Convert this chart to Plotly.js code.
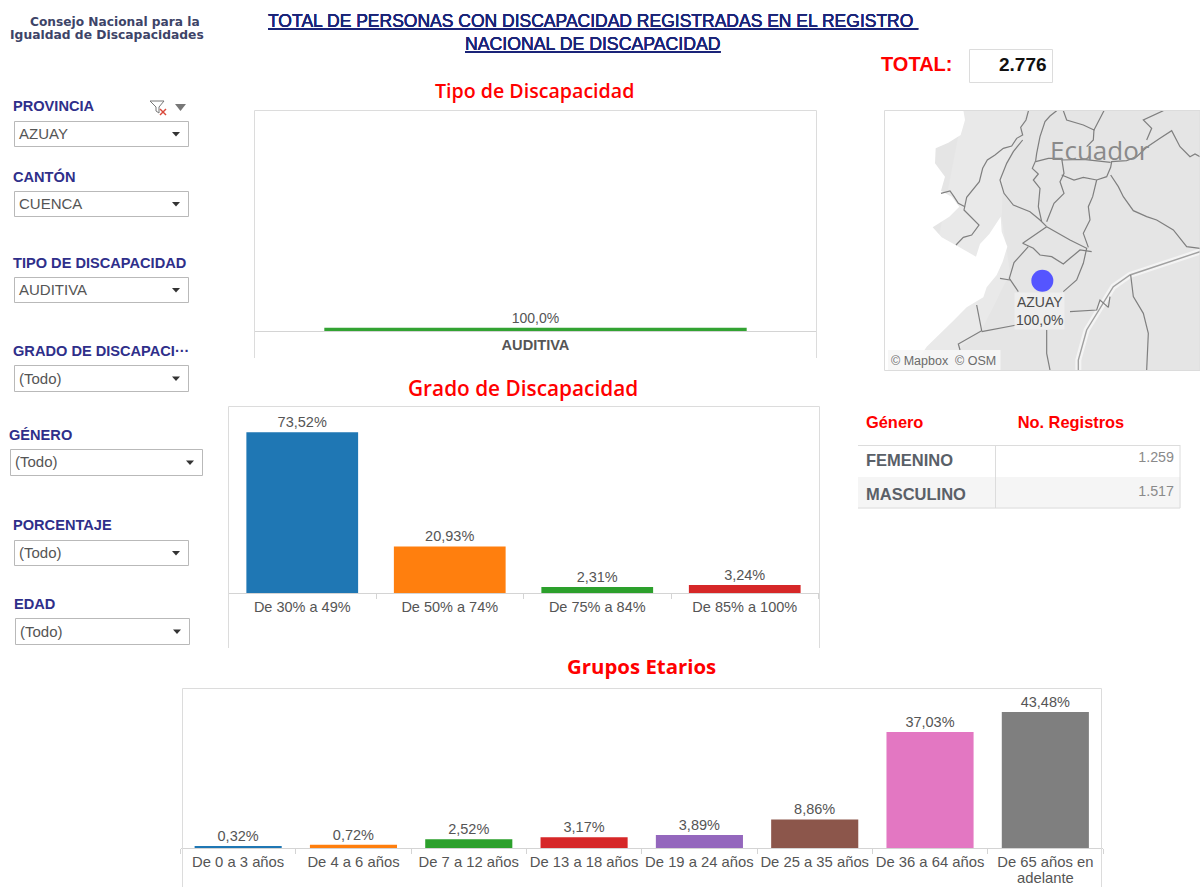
<!DOCTYPE html>
<html>
<head>
<meta charset="utf-8">
<script src="https://cdn.plot.ly/plotly-3.0.1.min.js"></script>
<style>html,body{margin:0;padding:0;background:#fff;overflow:hidden}#chart{width:1200px;height:887px}</style>
</head>
<body>
<div id="chart"></div>
<script>
// ---------- data ----------
const tipoCategorias = ["AUDITIVA"];
const tipoValores = [100.0];
const gradoCategorias = ["De 30% a 49%", "De 50% a 74%", "De 75% a 84%", "De 85% a 100%"];
const gradoValores = [73.52, 20.93, 2.31, 3.24];
const edadCategorias = ["De 0 a 3 años", "De 4 a 6 años", "De 7 a 12 años", "De 13 a 18 años", "De 19 a 24 años", "De 25 a 35 años", "De 36 a 64 años", "De 65 años en<br>adelante"];
const edadValores = [0.32, 0.72, 2.52, 3.17, 3.89, 8.86, 37.03, 43.48];
const generoEncabezados = ["Género", "No. Registros"];
const generoCategorias = ["FEMENINO", "MASCULINO"];
const generoRegistros = ["1.259", "1.517"];
const totalRegistros = "2.776";
const filtroNombres = ["PROVINCIA", "CANTÓN", "TIPO DE DISCAPACIDAD", "GRADO DE DISCAPACI···", "GÉNERO", "PORCENTAJE", "EDAD"];
const filtroValores = ["AZUAY", "CUENCA", "AUDITIVA", "(Todo)", "(Todo)", "(Todo)", "(Todo)"];
const mapaProvincia = ["AZUAY"];
const mapaPorcentaje = [100.0];

// map outlines in map units
const mapaCosta = [[280,210],[470,210],[440,300],[400,400],[395,530],[420,700],[340,860],[200,990],[130,990],[280,210]];
const mapaMar = [[42,210],[280,210],[285,240],[272,285],[235,308],[197,325],[195,370],[225,410],[213,452],[245,470],[268,500],[238,530],[188,562],[215,592],[262,618],[318,650],[330,612],[358,582],[392,530],[395,575],[412,620],[398,665],[380,705],[350,742],[340,772],[290,802],[250,842],[210,880],[170,920],[150,950],[130,990],[42,990],[42,210]];
const mapaFronteras = [
 [[476,210],[468,240],[452,262],[458,285],[440,295],[425,318],[400,325],[375,345],[352,360],[338,385],[328,425],[315,440],[290,472],[282,510],[300,528],[327,555],[305,585],[280,592],[258,615]],
 [[213,460],[240,453],[252,470],[265,490],[285,500]],
 [[560,212],[540,228],[525,245],[510,290],[500,340],[497,362],[487,385],[505,402],[490,420],[510,445],[505,500],[515,545]],
 [[458,300],[430,335],[410,370],[390,420],[402,460],[430,495],[480,515],[510,540],[530,560]],
 [[497,365],[535,355],[575,355],[582,400],[570,425],[582,460],[552,490],[530,545]],
 [[575,405],[612,420],[640,412],[680,420],[710,410],[722,382],[725,365],[770,362],[800,350],[830,322],[870,295],[905,272],[930,320],[960,350],[975,342],[990,350]],
 [[575,360],[640,358],[722,367]],
 [[680,420],[668,470],[655,500],[660,540],[640,580],[655,622]],
 [[722,405],[745,440],[760,470],[790,512],[830,530],[860,540],[910,570],[950,620],[990,625]],
 [[530,560],[492,585],[458,610],[490,625],[510,645],[545,650],[580,672],[600,655],[630,630],[665,635]],
 [[475,620],[432,668],[418,715],[445,755]],
 [[530,560],[600,600],[650,625],[640,670],[620,720],[580,755]],
 [[580,212],[590,240],[640,255],[672,270],[702,212]],
 [[672,268],[670,300],[650,320]],
 [[880,212],[820,240],[845,265],[830,300]],
 [[390,715],[420,720]],
 [[320,795],[335,872],[265,912],[270,930]],
 [[335,875],[440,855]],
 [[600,815],[680,810],[690,780],[715,802],[720,770]],
 [[782,705],[790,770],[820,820],[835,880],[830,990]],
 [[530,870],[530,940],[540,990]]
];
const mapaFronteraPeru = [[990,635],[780,705],[730,740],[700,790],[650,870],[625,960],[625,990]];

// ---------- page geometry (pixels) ----------
const W = 1200, H = 887;
const px = x => x / W, py = y => 1 - y / H;
const filtroGeo = [
 {lx:12, ly:106, x0:14, x1:189, y0:121, y1:147},
 {lx:12, ly:176, x0:14, x1:189, y0:191, y1:217},
 {lx:12, ly:263, x0:14, x1:189, y0:277, y1:303},
 {lx:12, ly:351, x0:14, x1:189, y0:365, y1:392},
 {lx:8,  ly:435, x0:10, x1:203, y0:449, y1:476},
 {lx:12, ly:525, x0:14, x1:189, y0:540, y1:566},
 {lx:13, ly:604, x0:15, x1:190, y0:618, y1:645}
];
const frameColor = "#dcdcdc", axisColor = "#d4d4d4";
const tab10 = ["#1f77b4", "#ff7f0e", "#2ca02c", "#d62728", "#9467bd", "#8c564b", "#e377c2", "#7f7f7f"];
const sans = "Liberation Sans, Arial, sans-serif";
const pct = (v, d) => v.toFixed(d).replace(".", ",") + "%";

const annotations = [], shapes = [];
function label(text, x, y, opts) {
  annotations.push(Object.assign({
    text, x: px(x), y: py(y), xref: "paper", yref: "paper", showarrow: false,
    xanchor: "left", yanchor: "middle", borderpad: 0,
    font: {family: sans, size: 14, color: "#555"}
  }, opts || {}));
}
function pathShape(points, fill) {
  const d = points.map((p, i) => (i ? "L" : "M") + px(p[0]) + "," + py(p[1])).join(" ") + " Z";
  shapes.push({type: "path", xref: "paper", yref: "paper", path: d, fillcolor: fill, line: {width: 0}, layer: "above"});
}
function rect(x0, y0, x1, y1, line, fill, layer) {
  shapes.push({type: "rect", xref: "paper", yref: "paper", x0: px(x0), x1: px(x1), y0: py(y0), y1: py(y1),
    line: {color: line, width: 1}, fillcolor: fill || "rgba(0,0,0,0)", layer: layer || "above"});
}
function seg(x0, y0, x1, y1, color, width) {
  shapes.push({type: "line", xref: "paper", yref: "paper", x0: px(x0), x1: px(x1), y0: py(y0), y1: py(y1),
    line: {color, width: width || 1}, layer: "above"});
}
function openFrame(x0, y0, x1, y1) {
  seg(x0, y0, x1, y0, frameColor); seg(x0, y0, x0, y1, frameColor); seg(x1, y0, x1, y1, frameColor);
}

// ---------- header ----------
label("Consejo Nacional para la", 114.5, 22, {xanchor: "center", font: {family: "DejaVu Sans", size: 12.2, color: "#3d4468", weight: 700}});
label("Igualdad de Discapacidades", 107, 35, {xanchor: "center", font: {family: "DejaVu Sans", size: 12.3, color: "#3d4468", weight: 700}});
const tituloFont = {family: sans, color: "#1a2478", shadow: "0 0 0.3px #1a2478"};
label("<u>TOTAL DE PERSONAS CON DISCAPACIDAD REGISTRADAS EN EL REGISTRO </u>", 592.5, 21, {xanchor: "center", font: Object.assign({size: 17.5}, tituloFont)});
label("<u>NACIONAL DE DISCAPACIDAD</u>", 592.5, 44, {xanchor: "center", font: Object.assign({size: 17.7}, tituloFont)});
label("<b>TOTAL:</b>", 880, 64, {font: {family: sans, size: 20, color: "#ff0000"}});
rect(969.5, 49.5, 1052.5, 82.5, frameColor);
label("<b>" + totalRegistros + "</b>", 1048, 65, {xanchor: "right", font: {family: sans, size: 19, color: "#111"}});

// ---------- chart titles ----------
label("Tipo de Discapacidad", 534.5, 91, {xanchor: "center", font: {family: "Open Sans, sans-serif", size: 19.6, color: "#ff0000", weight: 600}});
label("Grado de Discapacidad", 522.5, 388.5, {xanchor: "center", font: {family: "Open Sans, sans-serif", size: 20.8, color: "#ff0000", weight: 600}});
label("Grupos Etarios", 641, 665.5, {xanchor: "center", font: {family: "Open Sans, sans-serif", size: 20.4, color: "#ff0000", weight: 700}});

// ---------- filters ----------
filtroNombres.forEach((n, i) => {
  const g = filtroGeo[i];
  label(n, g.lx, g.ly, {font: {family: sans, size: 14.6, color: "#2f2f8a", weight: 700}});
  rect(g.x0 + .5, g.y0 + .5, g.x1 - .5, g.y1 - .5, "#b9b9b9", "#ffffff");
  label(filtroValores[i], g.x0 + 4, (g.y0 + g.y1) / 2 - 0.5, {font: {family: sans, size: 15, color: "#555"}});
  const cx = g.x1 - 13, cy = (g.y0 + g.y1) / 2;
  pathShape([[cx - 4, cy - 2], [cx + 4, cy - 2], [cx, cy + 2.5]], "#333");
});
// filter-clear icon and menu arrow on the first filter
shapes.push({type: "path", xref: "paper", yref: "paper", layer: "above",
  path: [[150,101],[164,101],[159,107],[159,113],[156,111],[156,107]].map((p, i) => (i ? "L" : "M") + px(p[0]) + "," + py(p[1])).join(" ") + " Z",
  fillcolor: "rgba(0,0,0,0)", line: {color: "#777", width: 1}});
seg(160, 109, 166, 115, "#d9483b", 1.4); seg(166, 109, 160, 115, "#d9483b", 1.4);
pathShape([[175, 104], [186, 104], [180.5, 111]], "#777");

// ---------- chart frames ----------
openFrame(254.5, 110.5, 816.5, 358);
openFrame(228.5, 406.5, 819.5, 648);
openFrame(182.5, 688.5, 1101.5, 887);

// ---------- map overlays ----------
rect(884.5, 110.5, 1200, 370.5, frameColor);
annotations.push({text: "Ecuador", x: 691, y: 329, xref: "x4", yref: "y4", showarrow: false,
  font: {family: "Open Sans, sans-serif", size: 26, color: "#8a8a8a"}});
annotations.push({text: mapaProvincia[0] + "<br>" + pct(mapaPorcentaje[0], 1), x: 509, y: 813, xref: "x4", yref: "y4",
  showarrow: false, align: "center", bgcolor: "rgba(240,240,240,0.85)", borderpad: 1,
  font: {family: sans, size: 14, color: "#4a4a4a"}});
rect(888, 350, 1000.5, 370, "rgba(0,0,0,0)", "rgba(246,246,246,0.9)");
label("© Mapbox  © OSM", 890, 360.5, {font: {family: sans, size: 12.5, color: "#6b6b6b"}});

// ---------- table frame (trims the table's rows to the frame) ----------
rect(1180.5, 440, 1185, 516, "rgba(0,0,0,0)", "#ffffff");
rect(857, 508.5, 1185, 516, "rgba(0,0,0,0)", "#ffffff");
seg(858, 445.5, 1180, 445.5, frameColor);
seg(858, 508, 1180, 508, frameColor);
seg(995.5, 445, 995.5, 508, frameColor);
seg(1180, 445, 1180, 508, frameColor);

// ---------- traces ----------
function barTrace(cats, vals, colors, digits, xa, ya, size, width) {
  return {
    type: "bar", x: cats, y: vals, xaxis: xa, yaxis: ya, width: cats.map(() => width),
    marker: {color: colors, line: {width: 2, color: colors}},
    text: vals.map(v => pct(v, digits)), textposition: "outside", cliponaxis: true,
    textfont: {family: sans, size, color: "#555"}, hoverinfo: "x+text", showlegend: false
  };
}
const traces = [
  barTrace(tipoCategorias, tipoValores, ["#33a333"], 1, "x", "y", 14, 0.748),
  barTrace(gradoCategorias, gradoValores, tab10.slice(0, 4), 2, "x2", "y2", 14.5, 0.744),
  barTrace(edadCategorias, edadValores, tab10, 2, "x3", "y3", 14.5, 0.738),
  {type: "scatter", mode: "lines", x: mapaCosta.map(p => p[0]), y: mapaCosta.map(p => p[1]), xaxis: "x4", yaxis: "y4",
   fill: "toself", fillcolor: "#e9e9e9", line: {width: 0}, hoverinfo: "skip", showlegend: false},
  {type: "scatter", mode: "lines", x: mapaMar.map(p => p[0]), y: mapaMar.map(p => p[1]), xaxis: "x4", yaxis: "y4",
   fill: "toself", fillcolor: "#ffffff", line: {width: 0}, hoverinfo: "skip", showlegend: false},
  {type: "scatter", mode: "lines", x: mapaFronteraPeru.map(p => p[0]), y: mapaFronteraPeru.map(p => p[1]), xaxis: "x4", yaxis: "y4",
   line: {color: "#f4f4f4", width: 6}, hoverinfo: "skip", showlegend: false},
  {type: "scatter", mode: "lines", x: mapaFronteraPeru.map(p => p[0]), y: mapaFronteraPeru.map(p => p[1]), xaxis: "x4", yaxis: "y4",
   line: {color: "#a0a0a0", width: 1.4}, hoverinfo: "skip", showlegend: false},
  ...mapaFronteras.map(f => ({type: "scatter", mode: "lines", x: f.map(p => p[0]), y: f.map(p => p[1]), xaxis: "x4", yaxis: "y4",
   line: {color: "#7f7f7f", width: 1.2}, hoverinfo: "skip", showlegend: false})),
  {type: "scatter", mode: "markers", x: [517], y: [722], xaxis: "x4", yaxis: "y4",
   marker: {size: 22, color: "#5555ff"}, text: mapaProvincia, hoverinfo: "text", showlegend: false},
  {type: "table", domain: {x: [px(858), px(1182)], y: [py(514), py(405)]},
   columnwidth: [138, 186],
   header: {
     values: ["<b>" + generoEncabezados[0] + "</b>", "<b>\u00a0\u00a0\u00a0" + generoEncabezados[1] + "</b>"],
     height: 38, align: "left", fill: {color: "#ffffff"},
     line: {width: 0, color: "rgba(0,0,0,0)"},
     font: {family: sans, size: 16.4, color: "#ff0000"}
   },
   cells: {
     values: [generoCategorias.map(c => "<b>" + c + "</b>"), generoRegistros],
     height: 31.5, align: ["left", "right"],
     fill: {color: [["#ffffff", "#f5f5f5"], ["#ffffff", "#f5f5f5"]]},
     line: {width: 0, color: "rgba(0,0,0,0)"},
     font: {family: sans, size: [16.5, 14.3], color: ["#5a6068", "#8a8a8a"]}
   }}
];

function catAxis(x0, x1, base, ticks, tickSize, weight, standoff) {
  return {domain: [px(x0), px(x1)], anchor: base, type: "category", showgrid: false, zeroline: false,
    showline: true, linecolor: axisColor, linewidth: 1, ticks: ticks ? "outside" : "", ticklen: 5, tickwidth: 1, tickcolor: axisColor,
    tickson: "boundaries", tickangle: 0, automargin: false, fixedrange: true, ticklabelstandoff: standoff,
    tickfont: {family: sans, size: tickSize, color: "#555", weight}};
}
function valAxis(top, base, rangeTop, anchor) {
  return {domain: [py(base), py(top)], range: [0, rangeTop], anchor, visible: false, fixedrange: true, showgrid: false, zeroline: false};
}

// age axis: tighter two-line labels (line spacing follows the base font size)
const xaxis3 = catAxis(180.5, 1103, "y3", true, 12.3, 400, 3);
xaxis3.tickmode = "array";
xaxis3.tickvals = edadCategorias;
xaxis3.ticktext = edadCategorias.map(c => c.split("<br>").map(l => '<span style="font-size:14.8px">' + l + "</span>").join("<br>"));

const layout = {
  width: W, height: H, margin: {l: 0, r: 0, t: 0, b: 0, pad: 0},
  paper_bgcolor: "#ffffff", plot_bgcolor: "rgba(0,0,0,0)", showlegend: false,
  bargap: 0.25, hovermode: "closest",
  xaxis:  catAxis(254.5, 816.5, "y", false, 14.6, 700, 0),
  yaxis:  valAxis(110, 331, 10000, "x"),
  xaxis2: catAxis(228.5, 818.5, "y2", true, 14.5, 400, 1),
  yaxis2: valAxis(406, 593, 86, "x2"),
  xaxis3,
  yaxis3: valAxis(688, 848, 51.5, "x3"),
  xaxis4: {domain: [px(885), px(1200)], range: [45, 990], anchor: "y4", visible: false, fixedrange: true},
  yaxis4: {domain: [py(370), py(111)], range: [990, 213], anchor: "x4", visible: false, fixedrange: true},
  annotations, shapes
};
// land tone behind the map
shapes.unshift({type: "rect", xref: "paper", yref: "paper", x0: px(885), x1: px(1200), y0: py(370), y1: py(111),
  fillcolor: "#e5e5e5", line: {width: 0}, layer: "below"});

Plotly.newPlot("chart", traces, layout, {displayModeBar: false, responsive: false});
</script>
</body>
</html>
